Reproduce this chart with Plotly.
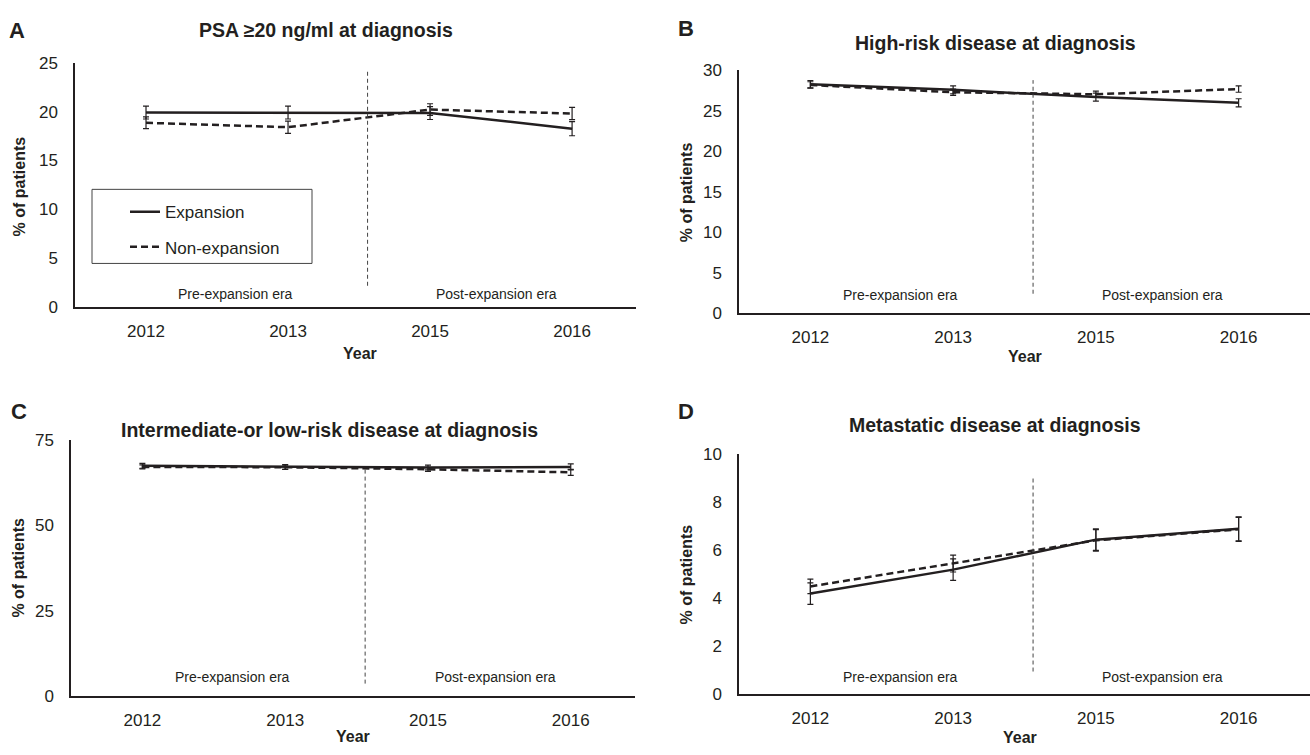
import plotly.graph_objects as go

W, H = 1310, 755

years = ["2012", "2013", "2015", "2016"]

# Panel A: PSA >= 20 ng/ml
a_exp = [19.9, 19.9, 19.85, 18.25]
a_exp_err = [0.66, 0.66, 0.66, 0.72]
a_non = [18.85, 18.4, 20.2, 19.8]
a_non_err = [0.6, 0.62, 0.6, 0.62]

# Panel B: high-risk disease
b_exp = [28.3, 27.6, 26.7, 26.0]
b_exp_err = [0.45, 0.5, 0.5, 0.5]
b_non = [28.2, 27.3, 27.05, 27.7]
b_non_err = [0.4, 0.4, 0.4, 0.4]

# Panel C: intermediate- or low-risk disease
c_exp = [67.4, 67.1, 66.9, 67.1]
c_exp_err = [0.7, 0.7, 0.7, 0.9]
c_non = [67.1, 67.0, 66.4, 65.5]
c_non_err = [0.6, 0.6, 0.6, 0.9]

# Panel D: metastatic disease
d_exp = [4.2, 5.2, 6.45, 6.9]
d_exp_err = [0.45, 0.45, 0.45, 0.5]
d_non = [4.5, 5.45, 6.42, 6.88]
d_non_err = [0.3, 0.35, 0.45, 0.5]

titles = ["PSA ≥20 ng/ml at diagnosis", "High-risk disease at diagnosis",
          "Intermediate-or low-risk disease at diagnosis", "Metastatic disease at diagnosis"]
letters = ["A", "B", "C", "D"]
y_max = [25, 30, 75, 10]
y_dtick = [5, 5, 25, 2]

INK = "#231f20"
NARROW = "Liberation Sans Narrow, Arial Narrow, Liberation Sans, Arial"
SANS = "Liberation Sans, Arial, Helvetica"

def px_x(p):
    return p / W

def px_y(p):
    return 1 - p / H

# domains from pixel geometry
dom = [
    dict(x=(75, 636), y=(306, 55)),
    dict(x=(739, 1310), y=(312, 63)),
    dict(x=(71, 635), y=(705, 442)),
    dict(x=(739, 1310), y=(703, 457)),
]
xr = [[-0.5, 3.45], [-0.5, 3.5], [-0.5, 3.45], [-0.5, 3.5]]

fig = go.Figure()

panels = [(a_exp, a_exp_err, a_non, a_non_err),
          (b_exp, b_exp_err, b_non, b_non_err),
          (c_exp, c_exp_err, c_non, c_non_err),
          (d_exp, d_exp_err, d_non, d_non_err)]

for i, (e, ee, n, ne) in enumerate(panels):
    ax = "" if i == 0 else str(i + 1)
    fig.add_trace(go.Scatter(
        x=years, y=e, mode="lines", name="Expansion",
        line=dict(color=INK, width=2.5),
        error_y=dict(type="data", array=ee, visible=True, color=INK, thickness=1.2, width=3),
        xaxis="x" + ax, yaxis="y" + ax, showlegend=(i == 0), legendgroup="exp"))
    fig.add_trace(go.Scatter(
        x=years, y=n, mode="lines", name="Non-expansion",
        line=dict(color=INK, width=2.5, dash="7px,4px"),
        error_y=dict(type="data", array=ne, visible=True, color=INK, thickness=1.2, width=3),
        xaxis="x" + ax, yaxis="y" + ax, showlegend=(i == 0), legendgroup="non"))

layout = dict(
    width=W, height=H, margin=dict(l=0, r=0, t=0, b=0),
    paper_bgcolor="white", plot_bgcolor="white",
    showlegend=True,
    legend=dict(x=px_x(125), y=px_y(190), xanchor="left", yanchor="top",
                bgcolor="rgba(0,0,0,0)", borderwidth=0,
                font=dict(family=NARROW, size=17, color=INK),
                itemwidth=30, tracegroupgap=10),
)

shapes = []
annotations = []
era_y = [1.4, 2.3, 5.7, 0.74]
vline = [(2.2, 24.1), (2.4, 28.8), (3.7, 67.0), (0.95, 9.0)]
for i in range(4):
    ax = "" if i == 0 else str(i + 1)
    d = dom[i]
    layout["xaxis" + ax] = dict(
        domain=[px_x(d["x"][0]), px_x(d["x"][1])], anchor="y" + ax,
        type="category", categoryorder="array", categoryarray=years,
        range=xr[i], showline=True, linecolor=INK, linewidth=1.5,
        showgrid=False, zeroline=False, ticks="", ticklabelstandoff=8,
        tickfont=dict(family=NARROW, size=17, color=INK), fixedrange=True)
    layout["yaxis" + ax] = dict(
        domain=[px_y(d["y"][0]), px_y(d["y"][1])], anchor="x" + ax,
        range=[0, y_max[i]], dtick=y_dtick[i], showline=True, linecolor=INK,
        linewidth=1.5, showgrid=False, zeroline=False, ticks="", ticklabelstandoff=12,
        tickfont=dict(family=NARROW, size=17, color=INK), fixedrange=True)
    shapes.append(dict(type="line", xref="x" + ax, yref="y" + ax,
                       x0=1.56, x1=1.56, y0=vline[i][0], y1=vline[i][1],
                       line=dict(color="#444444", width=1, dash="4px,3px")))
    annotations.append(dict(xref="x" + ax, yref="y" + ax, x=0.63, y=era_y[i],
                            text="Pre-expansion era", showarrow=False, yanchor="middle",
                            font=dict(family=NARROW, size=14, color=INK)))
    annotations.append(dict(xref="x" + ax, yref="y" + ax, x=2.47, y=era_y[i],
                            text="Post-expansion era", showarrow=False, yanchor="middle",
                            font=dict(family=NARROW, size=14, color=INK)))

# panel titles, letters, axis titles (pixel positions)
title_pos = [(326, 22), (995, 35), (330, 432), (995, 427)]
letter_pos = [(17, 22), (686, 20), (19, 413), (686, 413)]
ytitle_pos = [(19, 182), (686, 188), (19, 573), (686, 580)]
xtitle_pos = [(360, 353), (1025, 356), (353, 746), (1020, 747)]
for i in range(4):
    annotations.append(dict(xref="paper", yref="paper", x=px_x(title_pos[i][0]), y=px_y(title_pos[i][1]),
                            text="<b>" + titles[i] + "</b>", showarrow=False,
                            xanchor="center", yanchor="middle",
                            font=dict(family=NARROW, size=19.5, color=INK)))
    annotations.append(dict(xref="paper", yref="paper", x=px_x(letter_pos[i][0]), y=px_y(letter_pos[i][1]),
                            text="<b>" + letters[i] + "</b>", showarrow=False,
                            xanchor="center", yanchor="middle",
                            font=dict(family=SANS, size=22, color=INK)))
    annotations.append(dict(xref="paper", yref="paper", x=px_x(ytitle_pos[i][0]), y=px_y(ytitle_pos[i][1]),
                            text="<b>% of patients</b>", showarrow=False, textangle=-90,
                            xanchor="center", yanchor="middle",
                            font=dict(family=SANS, size=16, color=INK)))
    annotations.append(dict(xref="paper", yref="paper", x=px_x(xtitle_pos[i][0]), y=px_y(xtitle_pos[i][1]),
                            text="<b>Year</b>", showarrow=False,
                            xanchor="center", yanchor="middle",
                            font=dict(family=SANS, size=16, color=INK)))

# legend frame
shapes.append(dict(type="rect", xref="paper", yref="paper",
                   x0=px_x(92), x1=px_x(312), y0=px_y(261), y1=px_y(185),
                   line=dict(color="#444444", width=1), fillcolor="rgba(0,0,0,0)"))

layout["shapes"] = shapes
layout["annotations"] = annotations
fig.update_layout(**layout)

fig.write_html("out.html", config={"displayModeBar": False},
               post_script="document.body.style.margin='0';document.body.style.overflow='hidden';")
